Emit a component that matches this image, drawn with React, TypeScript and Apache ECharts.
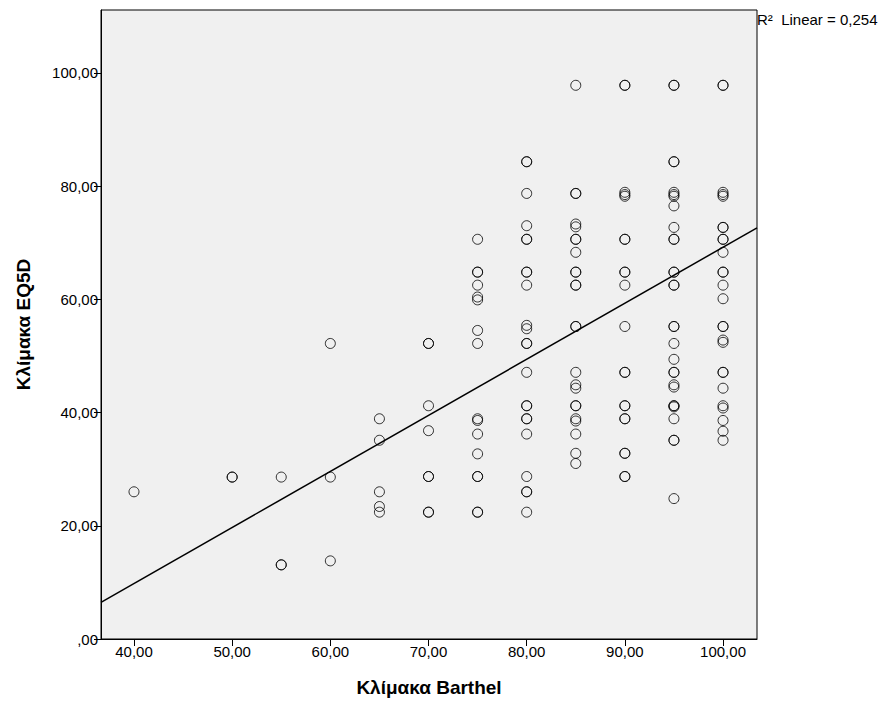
import React, { useEffect, useRef } from "react";
import * as echarts from "echarts";

// Barthel scale levels (x) and the EQ5D values observed at each level (y)
const barthelLevels = [40, 50, 55, 60, 65, 70, 75, 80, 85, 90, 95, 100];

const eq5dAt40 = [26.0];
const eq5dAt50 = [28.6, 28.6];
const eq5dAt55 = [28.6, 13.1, 13.1];
const eq5dAt60 = [52.2, 28.6, 13.8];
const eq5dAt65 = [38.9, 35.1, 26.0, 23.4, 22.4];
const eq5dAt70 = [52.2, 52.2, 41.2, 36.8, 28.7, 28.7, 22.4, 22.4];
const eq5dAt75 = [70.6, 64.8, 64.8, 62.5, 60.4, 59.9, 54.5, 52.2, 38.9, 38.6, 36.2, 32.7, 28.7, 28.7, 22.4, 22.4];
const eq5dAt80 = [84.3, 84.3, 78.7, 73.0, 70.6, 70.6, 64.8, 64.8, 62.5, 55.4, 54.8, 52.2, 52.2, 47.1, 41.2, 41.2, 38.9, 38.9, 36.2, 28.7, 26.0, 26.0, 22.4];
const eq5dAt85 = [97.8, 78.7, 78.7, 73.3, 72.8, 70.6, 70.6, 68.3, 64.8, 64.8, 62.5, 62.5, 55.2, 55.2, 47.1, 44.9, 44.3, 41.2, 41.2, 38.9, 38.5, 36.2, 32.8, 31.0];
const eq5dAt90 = [97.8, 97.8, 78.9, 78.5, 78.2, 70.6, 70.6, 64.8, 64.8, 62.5, 55.2, 47.1, 47.1, 41.2, 41.2, 38.9, 38.9, 32.8, 32.8, 28.7, 28.7];
const eq5dAt95 = [97.8, 97.8, 84.3, 84.3, 78.9, 78.5, 78.2, 76.5, 72.7, 70.6, 70.6, 64.8, 64.8, 62.5, 62.5, 55.2, 55.2, 52.2, 49.4, 47.1, 47.1, 44.9, 44.5, 41.2, 41.2, 41.0, 38.9, 35.1, 35.1, 24.8];
const eq5dAt100 = [97.8, 97.8, 78.9, 78.5, 78.2, 72.7, 72.7, 70.6, 70.6, 68.3, 64.8, 64.8, 62.5, 60.1, 55.2, 55.2, 52.8, 52.4, 47.1, 47.1, 44.3, 41.2, 40.8, 38.6, 36.7, 35.1];

const eq5dByLevel = [eq5dAt40, eq5dAt50, eq5dAt55, eq5dAt60, eq5dAt65, eq5dAt70, eq5dAt75, eq5dAt80, eq5dAt85, eq5dAt90, eq5dAt95, eq5dAt100];

// Axis ticks
const xTicks = [40, 50, 60, 70, 80, 90, 100];
const yTicks = [0, 20, 40, 60, 80, 100];
const xMin = 36.64;
const xMax = 103.46;
const yMin = 0;
const yMax = 111.1;

// Linear fit
const fitSlope = 0.99;
const fitIntercept = -29.8;
const rSquaredLabel = "R²  Linear = 0,254";

const FONT = "'Liberation Sans', Arial, sans-serif";

const fmt = (v: number) => (v === 0 ? ",00" : v.toFixed(2).replace(".", ","));

export default function App() {
  const ref = useRef<HTMLDivElement>(null);

  useEffect(() => {
    if (!ref.current) return;
    const chart = echarts.init(ref.current, undefined, { renderer: "svg" });

    const points: number[][] = [];
    barthelLevels.forEach((x, i) => {
      eq5dByLevel[i].forEach((y) => points.push([x, y]));
    });
    const fitLine = [
      [xMin, fitSlope * xMin + fitIntercept],
      [xMax, fitSlope * xMax + fitIntercept],
    ];

    chart.setOption({
      animation: false,
      backgroundColor: "#ffffff",
      textStyle: { fontFamily: FONT },
      grid: {
        left: 101,
        right: 126,
        top: 10,
        bottom: 70,
        show: true,
        backgroundColor: "#F0F0F0",
        borderColor: "#000",
        borderWidth: 1,
      },
      xAxis: {
        type: "value",
        min: xMin,
        max: xMax,
        name: "Κλίμακα Barthel",
        nameLocation: "middle",
        nameGap: 39,
        nameTextStyle: { fontFamily: FONT, fontSize: 19, fontWeight: "bold", color: "#000" },
        axisLine: { show: true, lineStyle: { color: "#000", width: 1 } },
        axisTick: { show: true, length: 7, lineStyle: { color: "#000" }, customValues: xTicks },
        axisLabel: { fontFamily: FONT, fontSize: 15, color: "#000", margin: 5, customValues: xTicks, formatter: fmt },
        splitLine: { show: false },
      },
      yAxis: {
        type: "value",
        min: yMin,
        max: yMax,
        name: "Κλίμακα EQ5D",
        nameLocation: "middle",
        nameGap: 68,
        nameTextStyle: { fontFamily: FONT, fontSize: 19, fontWeight: "bold", color: "#000" },
        axisLine: { show: true, lineStyle: { color: "#000", width: 1 } },
        axisTick: { show: true, length: 7, lineStyle: { color: "#000" }, customValues: yTicks },
        axisLabel: { fontFamily: FONT, fontSize: 15, color: "#000", margin: 3, customValues: yTicks, formatter: fmt },
        splitLine: { show: false },
      },
      series: [
        {
          type: "line",
          data: fitLine,
          symbol: "none",
          lineStyle: { color: "#000", width: 1.5 },
          z: 3,
        },
        {
          type: "scatter",
          data: points,
          symbol: "circle",
          symbolSize: 10,
          itemStyle: { color: "rgba(0,0,0,0)", borderColor: "#000", borderWidth: 1 },
          z: 4,
        },
      ],
      graphic: [
        {
          type: "text",
          left: 757,
          top: 12,
          style: { text: rSquaredLabel, fontFamily: FONT, fontSize: 15, fill: "#000" },
        },
      ],
    });

    return () => chart.dispose();
  }, []);

  return <div ref={ref} style={{ position: "absolute", left: 0, top: 0, width: 883, height: 709 }} />;
}
